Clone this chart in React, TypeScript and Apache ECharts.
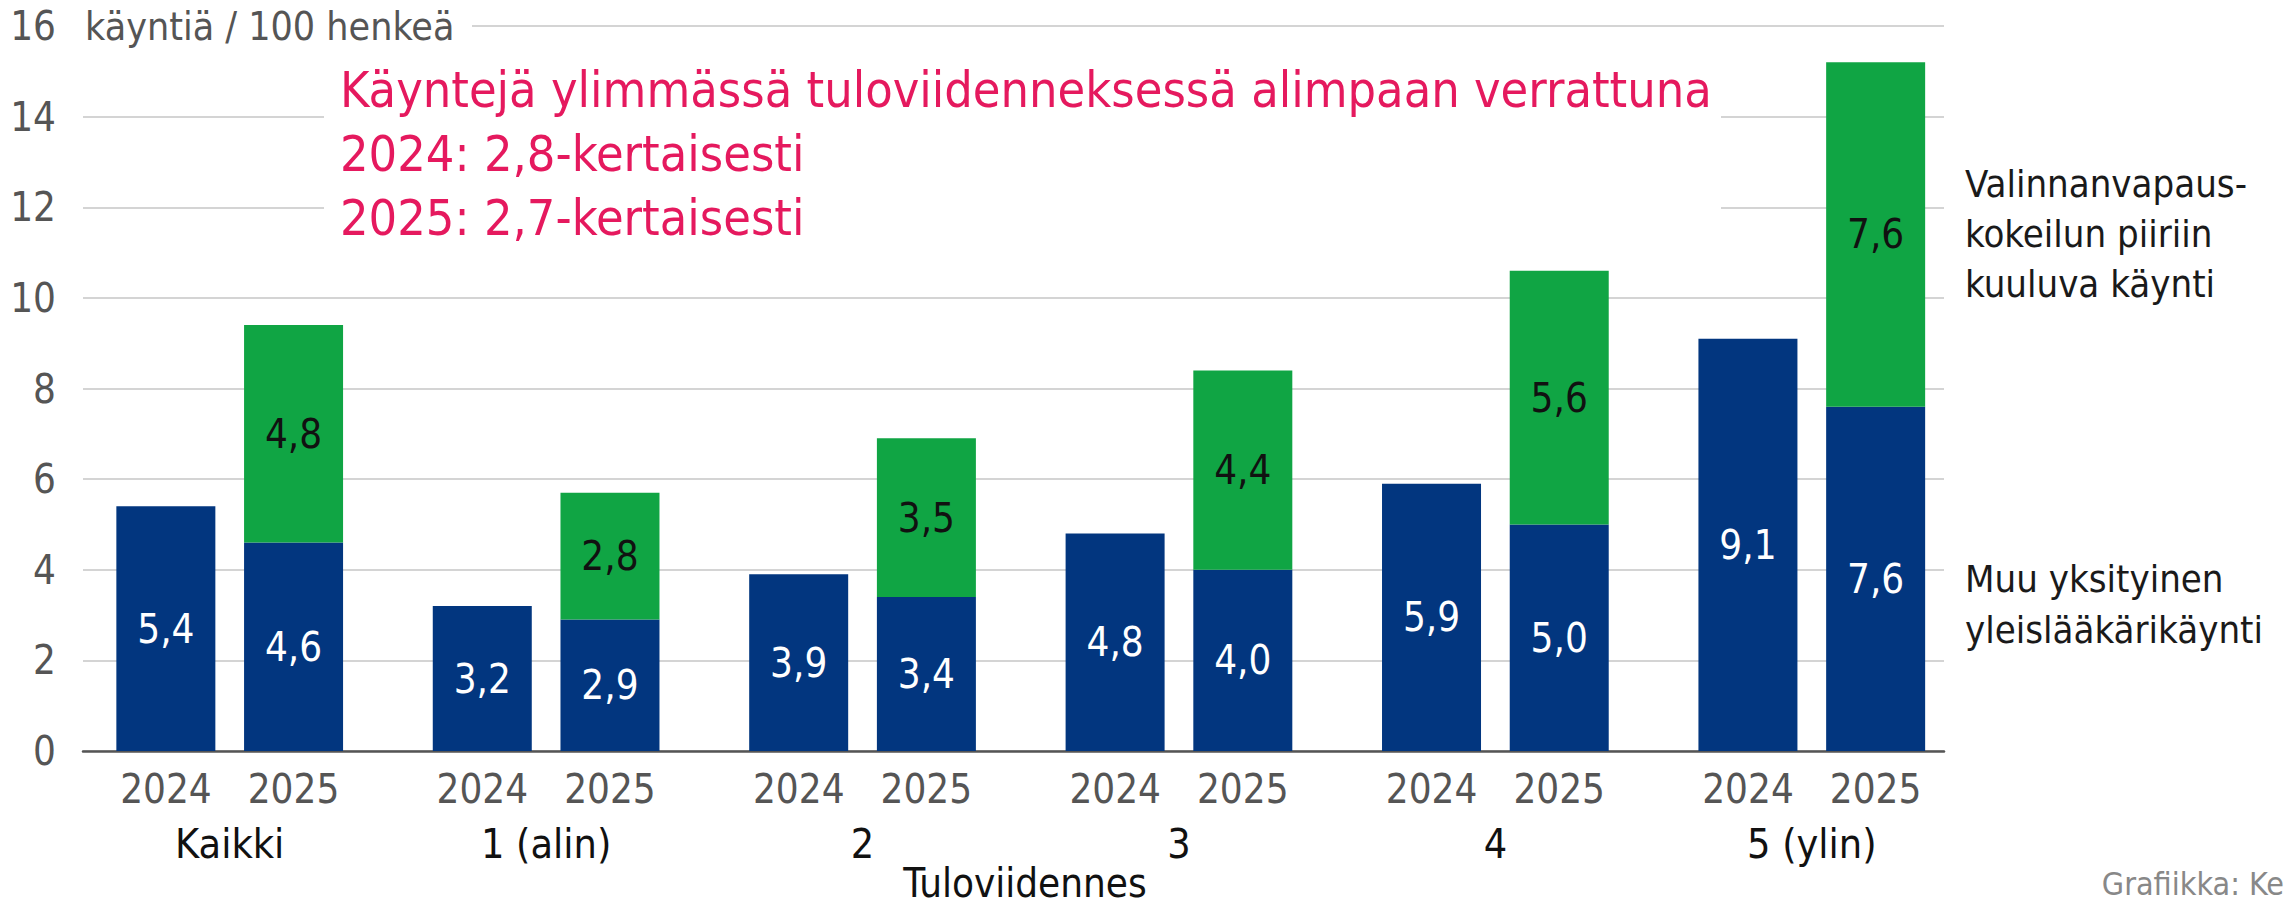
import React, { useEffect, useRef } from 'react';
import * as echarts from 'echarts';

const categories = ['Kaikki', '1 (alin)', '2', '3', '4', '5 (ylin)'];
const years = ['2024', '2025'];
const muu2024 = [5.4, 3.2, 3.9, 4.8, 5.9, 9.1];
const muu2025 = [4.6, 2.9, 3.4, 4.0, 5.0, 7.6];
const valinnan2025 = [4.8, 2.8, 3.5, 4.4, 5.6, 7.6];
const yMin = 0;
const yMax = 16;
const yInterval = 2;
const unitLabel = 'käyntiä / 100 henkeä';
const annotationLines = [
  'Käyntejä ylimmässä tuloviidenneksessä alimpaan verrattuna',
  '2024: 2,8-kertaisesti',
  '2025: 2,7-kertaisesti',
];
const legendValinnan = ['Valinnanvapaus-', 'kokeilun piiriin', 'kuuluva käynti'];
const legendMuu = ['Muu yksityinen', 'yleislääkärikäynti'];
const xAxisTitle = 'Tuloviidennes';
const credit = 'Grafiikka: Ke';

const FONT = "'Liberation Sans Narrow','DejaVu Sans Condensed','Noto Sans',sans-serif";
const BLUE = '#02367f';
const GREEN = '#10a544';
const PINK = '#e5195e';

const fmt = (v: number) => v.toFixed(1).replace('.', ',');

export default function App() {
  const ref = useRef<HTMLDivElement>(null);
  useEffect(() => {
    document.body.style.margin = '0';
    document.body.style.overflow = 'hidden';
    const chart = echarts.init(ref.current!, null, { renderer: 'svg' });
    const gridTop = 26;
    const gridBottom = 157;
    const barLabel = (color: string) => ({
      show: true,
      position: 'inside',
      color,
      fontSize: 40,
      fontFamily: FONT,
      formatter: (p: any) => fmt(p.value),
    });
    chart.setOption({
      animation: false,
      backgroundColor: '#fff',
      textStyle: { fontFamily: FONT },
      grid: [
        { left: 83, right: 343, top: gridTop, bottom: gridBottom },
        { left: 71.5, right: 317, top: gridTop, bottom: gridBottom },
      ],
      xAxis: [
        {
          gridIndex: 0,
          type: 'value',
          min: 0,
          max: 1,
          axisLabel: { show: false },
          axisTick: { show: false },
          splitLine: { show: false },
          axisLine: { show: true, lineStyle: { color: '#555', width: 2.5 } },
        },
        {
          gridIndex: 1,
          type: 'category',
          data: categories,
          axisLine: { show: false },
          axisTick: { show: false },
          axisLabel: {
            interval: 0,
            margin: 10,
            formatter: (v: string) => `{y|${years[0]}}{y|${years[1]}}\n{g|${v}}`,
            rich: {
              y: { width: 127.6, align: 'center', fontSize: 40, color: '#555', lineHeight: 55, fontFamily: FONT },
              g: { align: 'center', fontSize: 41, color: '#111', lineHeight: 55, fontFamily: FONT },
            },
          },
        },
      ],
      yAxis: [
        {
          gridIndex: 0,
          type: 'value',
          min: yMin,
          max: yMax,
          interval: yInterval,
          axisLine: { show: false },
          axisTick: { show: false },
          axisLabel: { align: 'right', margin: 27, fontSize: 40, color: '#555', fontFamily: FONT },
          splitLine: { lineStyle: { color: '#d4d4d4', width: 2 } },
        },
        {
          gridIndex: 1,
          type: 'value',
          min: yMin,
          max: yMax,
          interval: yInterval,
          show: false,
          splitLine: { show: false },
        },
      ],
      series: [
        {
          name: years[0],
          type: 'bar',
          xAxisIndex: 1,
          yAxisIndex: 1,
          data: muu2024,
          barWidth: 99,
          barGap: '29%',
          itemStyle: { color: BLUE },
          label: barLabel('#fff'),
        },
        {
          name: legendMuu.join(' '),
          type: 'bar',
          xAxisIndex: 1,
          yAxisIndex: 1,
          stack: 'y2025',
          data: muu2025,
          barWidth: 99,
          barGap: '29%',
          itemStyle: { color: BLUE },
          label: barLabel('#fff'),
        },
        {
          name: legendValinnan.join(' '),
          type: 'bar',
          xAxisIndex: 1,
          yAxisIndex: 1,
          stack: 'y2025',
          data: valinnan2025,
          barWidth: 99,
          barGap: '29%',
          itemStyle: { color: GREEN },
          label: barLabel('#111'),
        },
      ],
      graphic: [
        {
          type: 'rect',
          z: 10,
          shape: { x: 80, y: 6, width: 392, height: 40 },
          style: { fill: '#fff' },
        },
        {
          type: 'text',
          z: 11,
          x: 85,
          y: 26,
          style: { text: unitLabel, fontSize: 39, fill: '#555', fontFamily: FONT, textVerticalAlign: 'middle' },
        },
        {
          type: 'rect',
          z: 10,
          shape: { x: 324, y: 60, width: 1397, height: 180 },
          style: { fill: '#fff' },
        },
        {
          type: 'text',
          z: 11,
          x: 340,
          y: 58,
          style: {
            text: annotationLines.join('\n'),
            fontSize: 50,
            lineHeight: 64,
            fill: PINK,
            fontFamily: FONT,
          },
        },
        {
          type: 'text',
          z: 11,
          x: 1965,
          y: 159,
          style: { text: legendValinnan.join('\n'), fontSize: 38, lineHeight: 50, fill: '#1a1a1a', fontFamily: FONT },
        },
        {
          type: 'text',
          z: 11,
          x: 1965,
          y: 553,
          style: { text: legendMuu.join('\n'), fontSize: 38, lineHeight: 51, fill: '#1a1a1a', fontFamily: FONT },
        },
        {
          type: 'text',
          z: 11,
          x: 1025,
          y: 883,
          style: { text: xAxisTitle, fontSize: 40, fill: '#111', fontFamily: FONT, textAlign: 'center', textVerticalAlign: 'middle' },
        },
        {
          type: 'text',
          z: 11,
          x: 2284,
          y: 884,
          style: { text: credit, fontSize: 32, fill: '#888', fontFamily: FONT, textAlign: 'right', textVerticalAlign: 'middle' },
        },
      ],
    });
    return () => chart.dispose();
  }, []);
  return <div ref={ref} style={{ position: 'absolute', left: 0, top: 0, width: 2287, height: 908 }} />;
}
